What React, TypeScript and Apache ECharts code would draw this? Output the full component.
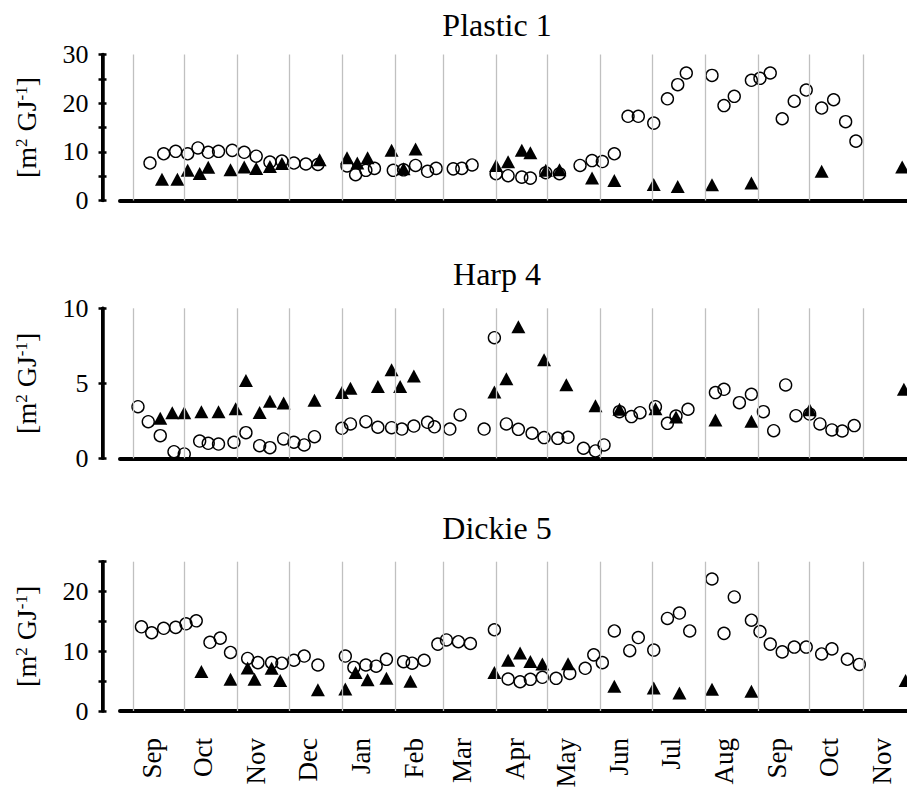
import React, { useEffect, useRef } from "react";
import * as echarts from "echarts";

// Days are counted from 1 September of the first season.
const MONTH_NAMES = ["Sep", "Oct", "Nov", "Dec", "Jan", "Feb", "Mar", "Apr", "May", "Jun", "Jul", "Aug", "Sep", "Oct", "Nov"];
const MONTH_START_DAYS = [0, 30, 61, 91, 122, 153, 181, 212, 242, 273, 303, 334, 365, 395, 426];
const LABEL_DAYS = MONTH_START_DAYS.map((d) => d + 11);

const PANEL_TITLES = ["Plastic 1", "Harp 4", "Dickie 5"];

const PLASTIC_CIRCLE_DAYS = [10, 18, 25, 32, 38, 44, 50, 58, 65, 72, 80, 87, 94, 101, 108, 125, 130, 136, 141, 152, 158, 165, 172, 177, 187, 192, 198, 212, 219, 227, 232, 241, 249, 261, 268, 274, 281, 289, 295, 304, 312, 318, 323, 338, 345, 351, 361, 366, 372, 379, 386, 393, 402, 409, 416, 422];
const PLASTIC_CIRCLE_VALUES = [7.7, 9.6, 10.1, 9.6, 10.8, 9.9, 10.1, 10.3, 9.9, 9.1, 7.9, 8.1, 7.7, 7.5, 7.4, 7.1, 5.3, 6.2, 6.6, 6.2, 6.3, 7.2, 6.0, 6.6, 6.5, 6.6, 7.3, 5.5, 5.1, 4.8, 4.6, 5.7, 5.5, 7.2, 8.2, 8.0, 9.6, 17.3, 17.3, 15.9, 20.9, 23.8, 26.2, 25.7, 19.5, 21.4, 24.7, 25.1, 26.2, 16.8, 20.4, 22.7, 19.0, 20.7, 16.2, 12.2];
const PLASTIC_TRI_DAYS = [17, 26, 32, 39, 44, 57, 65, 72, 80, 87, 109, 125, 131, 137, 151, 158, 165, 212, 219, 227, 232, 241, 249, 268, 281, 304, 318, 338, 361, 402, 449];
const PLASTIC_TRI_VALUES = [4.35, 4.35, 6.2, 5.55, 6.85, 6.3, 6.9, 6.6, 7.0, 7.6, 8.35, 8.8, 7.7, 8.8, 10.3, 6.5, 10.6, 7.2, 7.95, 10.3, 9.8, 6.2, 6.3, 4.6, 4.1, 3.3, 2.9, 3.25, 3.6, 6.0, 6.9];

const HARP_CIRCLE_DAYS = [3, 9, 16, 24, 30, 39, 44, 50, 59, 66, 74, 80, 88, 94, 100, 106, 122, 127, 136, 143, 151, 157, 164, 172, 176, 185, 191, 205, 211, 218, 225, 233, 240, 248, 254, 263, 270, 275, 284, 291, 296, 305, 312, 317, 324, 340, 345, 354, 361, 368, 374, 381, 387, 395, 401, 408, 414, 421];
const HARP_CIRCLE_VALUES = [3.44, 2.44, 1.51, 0.44, 0.29, 1.15, 1.0, 0.95, 1.07, 1.71, 0.84, 0.71, 1.29, 1.07, 0.89, 1.44, 2.0, 2.29, 2.44, 2.07, 2.04, 1.95, 2.15, 2.4, 2.1, 1.95, 2.89, 1.95, 8.04, 2.29, 1.93, 1.67, 1.38, 1.33, 1.4, 0.67, 0.49, 0.89, 3.11, 2.78, 3.04, 3.44, 2.33, 2.82, 3.27, 4.38, 4.6, 3.71, 4.27, 3.11, 1.84, 4.89, 2.84, 2.95, 2.29, 1.89, 1.82, 2.18];
const HARP_TRI_DAYS = [16, 23, 30, 40, 50, 60, 66, 74, 80, 88, 106, 122, 127, 143, 151, 156, 164, 211, 218, 225, 240, 253, 270, 284, 305, 317, 340, 361, 395, 450];
const HARP_TRI_VALUES = [2.67, 3.04, 3.04, 3.11, 3.11, 3.31, 5.18, 3.05, 3.8, 3.69, 3.87, 4.38, 4.67, 4.78, 5.91, 4.78, 5.49, 4.42, 5.31, 8.77, 6.57, 4.91, 3.5, 3.27, 3.31, 2.75, 2.55, 2.47, 3.24, 4.61];

const DICKIE_CIRCLE_DAYS = [5, 11, 18, 25, 31, 37, 45, 51, 57, 67, 73, 81, 87, 94, 100, 108, 124, 129, 136, 142, 148, 158, 163, 170, 178, 183, 190, 197, 211, 219, 226, 232, 239, 247, 255, 264, 269, 274, 281, 290, 295, 304, 312, 319, 325, 338, 345, 351, 361, 366, 372, 379, 386, 393, 402, 408, 417, 424];
const DICKIE_CIRCLE_VALUES = [14.1, 13.1, 13.85, 14.0, 14.6, 15.1, 11.5, 12.2, 9.8, 8.8, 8.1, 8.1, 8.0, 8.5, 9.2, 7.7, 9.2, 7.3, 7.7, 7.5, 8.65, 8.26, 8.0, 8.5, 11.2, 11.9, 11.6, 11.3, 13.6, 5.36, 4.9, 5.3, 5.64, 5.47, 6.3, 7.15, 9.4, 8.1, 13.4, 10.1, 12.3, 10.2, 15.5, 16.4, 13.4, 22.1, 13.0, 19.1, 15.2, 13.3, 11.2, 9.9, 10.7, 10.7, 9.55, 10.4, 8.66, 7.8];
const DICKIE_TRI_DAYS = [40, 57, 67, 71, 81, 86, 108, 124, 130, 137, 148, 162, 211, 219, 226, 232, 239, 254, 281, 304, 319, 338, 361, 451];
const DICKIE_TRI_VALUES = [6.6, 5.3, 7.2, 5.33, 7.15, 5.1, 3.57, 3.7, 6.45, 5.25, 5.47, 5.0, 6.45, 8.5, 9.7, 8.3, 7.85, 7.9, 4.13, 3.85, 3.0, 3.66, 3.3, 5.1];

const Y_MAX = [30, 10, 25];
const Y_LABEL_STEP = [10, 5, 10];

const FONT = "Liberation Serif";

const zip = (xs: number[], ys: number[]) => xs.map((x, i) => [x, ys[i]]);

const PANELS = [
  { circles: zip(PLASTIC_CIRCLE_DAYS, PLASTIC_CIRCLE_VALUES), triangles: zip(PLASTIC_TRI_DAYS, PLASTIC_TRI_VALUES) },
  { circles: zip(HARP_CIRCLE_DAYS, HARP_CIRCLE_VALUES), triangles: zip(HARP_TRI_DAYS, HARP_TRI_VALUES) },
  { circles: zip(DICKIE_CIRCLE_DAYS, DICKIE_CIRCLE_VALUES), triangles: zip(DICKIE_TRI_DAYS, DICKIE_TRI_VALUES) },
];

// layout of the three stacked plots
const GRID_LEFT = 120;
const GRID_WIDTH = 800;
const GRID_TOPS = [54.5, 308.3, 561.7];
const GRID_HEIGHTS = [146, 150, 149.3];
const TITLE_Y = [24.5, 273.5, 527.5];
const TITLE_X = 497;

function buildOption() {
  const grid: any[] = [];
  const xAxis: any[] = [];
  const yAxis: any[] = [];
  const series: any[] = [];
  const graphic: any[] = [];

  PANELS.forEach((p, i) => {
    const isBottom = i === PANELS.length - 1;
    grid.push({ left: GRID_LEFT, width: GRID_WIDTH, top: GRID_TOPS[i], height: GRID_HEIGHTS[i], containLabel: false });

    xAxis.push({
      gridIndex: i,
      type: "value",
      min: -7.5,
      max: 459.4,
      axisLine: { show: true, onZero: false, lineStyle: { color: "#000", width: 4 } },
      axisTick: { show: false },
      splitLine: { show: false },
      axisLabel: isBottom
        ? {
            show: true,
            customValues: LABEL_DAYS,
            rotate: 90,
            margin: 27,
            fontSize: 27,
            fontFamily: FONT,
            color: "#000",
            formatter: (v: number) => {
              const k = LABEL_DAYS.indexOf(Math.round(v));
              return k >= 0 ? MONTH_NAMES[k] : "";
            },
          }
        : { show: false },
    });

    const step = Y_LABEL_STEP[i];
    // outer half of the ticks, labels and axis title
    yAxis.push({
      gridIndex: i,
      type: "value",
      position: "left",
      min: 0,
      max: Y_MAX[i],
      interval: 5,
      offset: 17.5,
      axisLine: { show: true, onZero: false, lineStyle: { color: "#000", width: 3 } },
      axisTick: { show: true, length: 4, lineStyle: { color: "#000", width: 2.5 } },
      axisLabel: {
        show: true,
        margin: 14,
        fontSize: 26,
        fontFamily: FONT,
        color: "#000",
        formatter: (v: number) => (v % step === 0 ? String(v) : ""),
      },
      splitLine: { show: false },
      name: "[m{sup|2} GJ{sup|-1}]",
      nameLocation: "middle",
      nameRotate: 90,
      nameGap: 62,
      nameTextStyle: {
        fontSize: 28,
        fontFamily: FONT,
        color: "#000",
        rich: { sup: { fontSize: 17, fontFamily: FONT, color: "#000", verticalAlign: "top" } },
      },
    });
    // axis line and the inner half of each tick mark, so that ticks cross the line
    yAxis.push({
      gridIndex: i,
      type: "value",
      position: "left",
      min: 0,
      max: Y_MAX[i],
      interval: 5,
      offset: 17.5,
      axisLine: { show: true, onZero: false, lineStyle: { color: "#000", width: 3.5 } },
      axisTick: { show: true, inside: true, length: 4, lineStyle: { color: "#000", width: 2.5 } },
      axisLabel: { show: false },
      splitLine: { show: false },
    });

    series.push({
      type: "line",
      xAxisIndex: i,
      yAxisIndex: i * 2,
      data: [],
      silent: true,
      z: 1,
      markLine: {
        silent: true,
        symbol: ["none", "none"],
        label: { show: false },
        emphasis: { disabled: true },
        lineStyle: { color: "#c0c0c0", width: 1.3, type: "solid" },
        data: MONTH_START_DAYS.map((d) => ({ xAxis: d })),
      },
    });
    series.push({
      name: "open",
      type: "scatter",
      xAxisIndex: i,
      yAxisIndex: i * 2,
      data: p.circles,
      symbol: "circle",
      symbolSize: 12,
      z: 3,
      itemStyle: { color: "rgba(0,0,0,0)", borderColor: "#000", borderWidth: 1.4, opacity: 1 },
    });
    series.push({
      name: "filled",
      type: "scatter",
      xAxisIndex: i,
      yAxisIndex: i * 2,
      data: p.triangles,
      symbol: "triangle",
      symbolSize: [14, 13],
      z: 4,
      itemStyle: { color: "#000", opacity: 1 },
    });

    graphic.push({
      type: "text",
      x: TITLE_X,
      y: TITLE_Y[i],
      silent: true,
      style: {
        text: PANEL_TITLES[i],
        fill: "#000",
        fontSize: 32,
        fontFamily: FONT,
        align: "center",
        verticalAlign: "middle",
      },
    });
  });

  return {
    animation: false,
    backgroundColor: "#fff",
    grid,
    xAxis,
    yAxis,
    series,
    graphic,
  };
}

export default function App() {
  const ref = useRef<HTMLDivElement>(null);

  useEffect(() => {
    if (!ref.current) return;
    const chart = echarts.init(ref.current, undefined, { renderer: "svg" });
    chart.setOption(buildOption() as any);
    return () => chart.dispose();
  }, []);

  return (
    <div style={{ position: "fixed", left: 0, top: 0, width: 907, height: 791, overflow: "hidden", background: "#fff" }}>
      <div ref={ref} style={{ width: 930, height: 791 }} />
    </div>
  );
}
